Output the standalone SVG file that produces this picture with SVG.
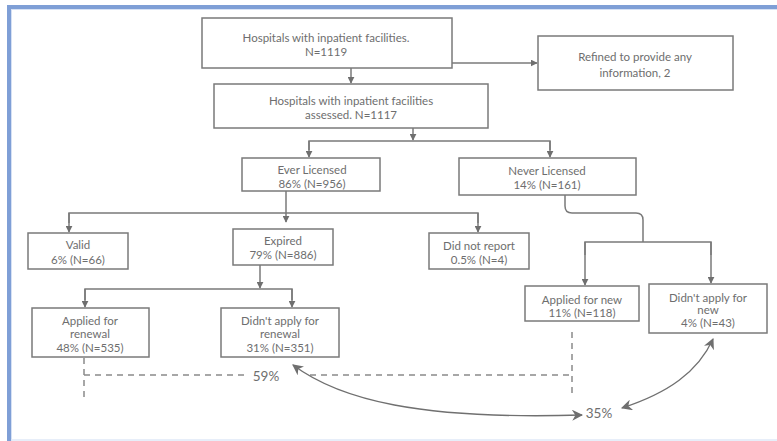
<svg xmlns="http://www.w3.org/2000/svg" width="777" height="441" viewBox="0 0 777 441">
<defs>
<marker id="ah" viewBox="0 0 10 10" refX="9" refY="5" markerWidth="7" markerHeight="7" markerUnits="userSpaceOnUse" orient="auto-start-reverse">
<path d="M0,0 L10,5 L0,10 Z" fill="#6f6f6f"/>
</marker>
<marker id="ah2" viewBox="0 0 10 10" refX="9" refY="5" markerWidth="11" markerHeight="11" markerUnits="userSpaceOnUse" orient="auto-start-reverse">
<path d="M0,0 L10,5 L0,10 L3,5 Z" fill="#6f6f6f"/>
</marker>
</defs>
<style>
.box{fill:#fff;stroke:#7a7a7a;stroke-width:1.5}
.t{font-family:Lato,"Liberation Sans",sans-serif;font-size:11.5px;fill:#6e6e6e;text-anchor:middle;dominant-baseline:central}
.big{font-size:13.5px}
.c{fill:none;stroke:#7a7a7a;stroke-width:1.5}
.a{marker-end:url(#ah)}
.d{fill:none;stroke:#8a8a8a;stroke-width:1.5;stroke-dasharray:6,5}
.cv{fill:none;stroke:#707070;stroke-width:1.3;marker-start:url(#ah2);marker-end:url(#ah2)}
</style>
<rect x="0" y="0" width="777" height="441" fill="#fff"/>
<g id="frame">
<line x1="7" y1="7" x2="777" y2="7" stroke="#7f9fd6" stroke-width="4"/>
<line x1="9" y1="5" x2="9" y2="441" stroke="#7f9fd6" stroke-width="4"/>
<line x1="11" y1="9.5" x2="777" y2="9.5" stroke="#d6e1f4" stroke-width="1"/>
<line x1="11.5" y1="9" x2="11.5" y2="441" stroke="#d6e1f4" stroke-width="1"/>
<line x1="11" y1="440" x2="777" y2="440" stroke="#dfe8f7" stroke-width="1.5"/>
</g>
<g id="connectors">
<line class="c a" x1="351" y1="68" x2="351" y2="83"/>
<line class="c a" x1="452" y1="63" x2="537" y2="63"/>
<line class="c a" x1="413" y1="128" x2="413" y2="140"/>
<polyline class="c" points="309,150 309,141 550,141 550,150"/>
<line class="c a" x1="309" y1="141" x2="309" y2="157"/>
<line class="c a" x1="550" y1="141" x2="550" y2="157"/>
<line class="c a" x1="286" y1="191" x2="286" y2="222"/>
<polyline class="c" points="69,223 69,213 478,213 478,223"/>
<line class="c a" x1="69" y1="213" x2="69" y2="232"/>
<line class="c a" x1="478" y1="213" x2="478" y2="232"/>
<line class="c a" x1="260" y1="265" x2="260" y2="288"/>
<polyline class="c" points="85,300 85,289 292,289 292,300"/>
<line class="c a" x1="85" y1="289" x2="85" y2="307"/>
<line class="c a" x1="292" y1="289" x2="292" y2="307"/>
<path class="c" d="M565,195 V206 Q565,213 572,213 H636 Q643,213 643,220 V242"/>
<polyline class="c" points="585,255 585,242 711,242 711,255"/>
<line class="c a" x1="585" y1="242" x2="585" y2="285"/>
<line class="c a" x1="711" y1="242" x2="711" y2="283"/>
<line class="d" x1="84" y1="358" x2="84" y2="398"/>
<line class="d" x1="84" y1="375" x2="244" y2="375"/>
<line class="d" x1="310" y1="375" x2="572" y2="375"/>
<line class="d" x1="572" y1="332" x2="572" y2="398"/>
<path class="cv" d="M293,365 C340,400 420,420 582,415"/>
<path class="cv" d="M622,408 C668,393 698,372 713,339"/>
</g>
<g id="n1"><rect class="box" x="202" y="18" width="250" height="50"/>
<text class="t" x="326" y="37">Hospitals with inpatient facilities.</text>
<text class="t" x="326" y="51">N=1119</text></g>
<g id="n_refined"><rect class="box" x="538" y="36" width="195" height="54"/>
<text class="t" x="635" y="56">Refined to provide any</text>
<text class="t" x="635" y="72">information, 2</text></g>
<g id="n2"><rect class="box" x="214" y="84" width="274" height="44"/>
<text class="t" x="351" y="100">Hospitals with inpatient facilities</text>
<text class="t" x="351" y="114">assessed. N=1117</text></g>
<g id="n_ever"><rect class="box" x="242" y="158" width="138" height="33"/>
<text class="t" x="312" y="169">Ever Licensed</text>
<text class="t" x="312" y="183">86% (N=956)</text></g>
<g id="n_never"><rect class="box" x="459" y="158" width="177" height="37"/>
<text class="t" x="547" y="170">Never Licensed</text>
<text class="t" x="547" y="184">14% (N=161)</text></g>
<g id="n_valid"><rect class="box" x="28" y="233" width="100" height="36"/>
<text class="t" x="78" y="244">Valid</text>
<text class="t" x="78" y="259">6% (N=66)</text></g>
<g id="n_expired"><rect class="box" x="233" y="229" width="100" height="36"/>
<text class="t" x="283" y="240">Expired</text>
<text class="t" x="283" y="254">79% (N=886)</text></g>
<g id="n_dnr"><rect class="box" x="429" y="233" width="100" height="36"/>
<text class="t" x="479" y="245">Did not report</text>
<text class="t" x="479" y="259">0.5% (N=4)</text></g>
<g id="n_appnew"><rect class="box" x="525" y="286" width="114" height="35"/>
<text class="t" x="582" y="299">Applied for new</text>
<text class="t" x="582" y="312">11% (N=118)</text></g>
<g id="n_didntnew"><rect class="box" x="649" y="284" width="118" height="49"/>
<text class="t" x="708" y="297">Didn't apply for</text>
<text class="t" x="708" y="309">new</text>
<text class="t" x="708" y="322">4% (N=43)</text></g>
<g id="n_appren"><rect class="box" x="32" y="308" width="117" height="49"/>
<text class="t" x="90" y="320">Applied for</text>
<text class="t" x="90" y="333">renewal</text>
<text class="t" x="90" y="347">48% (N=535)</text></g>
<g id="n_didntren"><rect class="box" x="221" y="308" width="118" height="49"/>
<text class="t" x="280" y="320">Didn't apply for</text>
<text class="t" x="280" y="333">renewal</text>
<text class="t" x="280" y="347">31% (N=351)</text></g>
<g id="labels">
<text class="t big" x="266" y="376">59%</text>
<text class="t big" x="599" y="413">35%</text>
</g>
</svg>
